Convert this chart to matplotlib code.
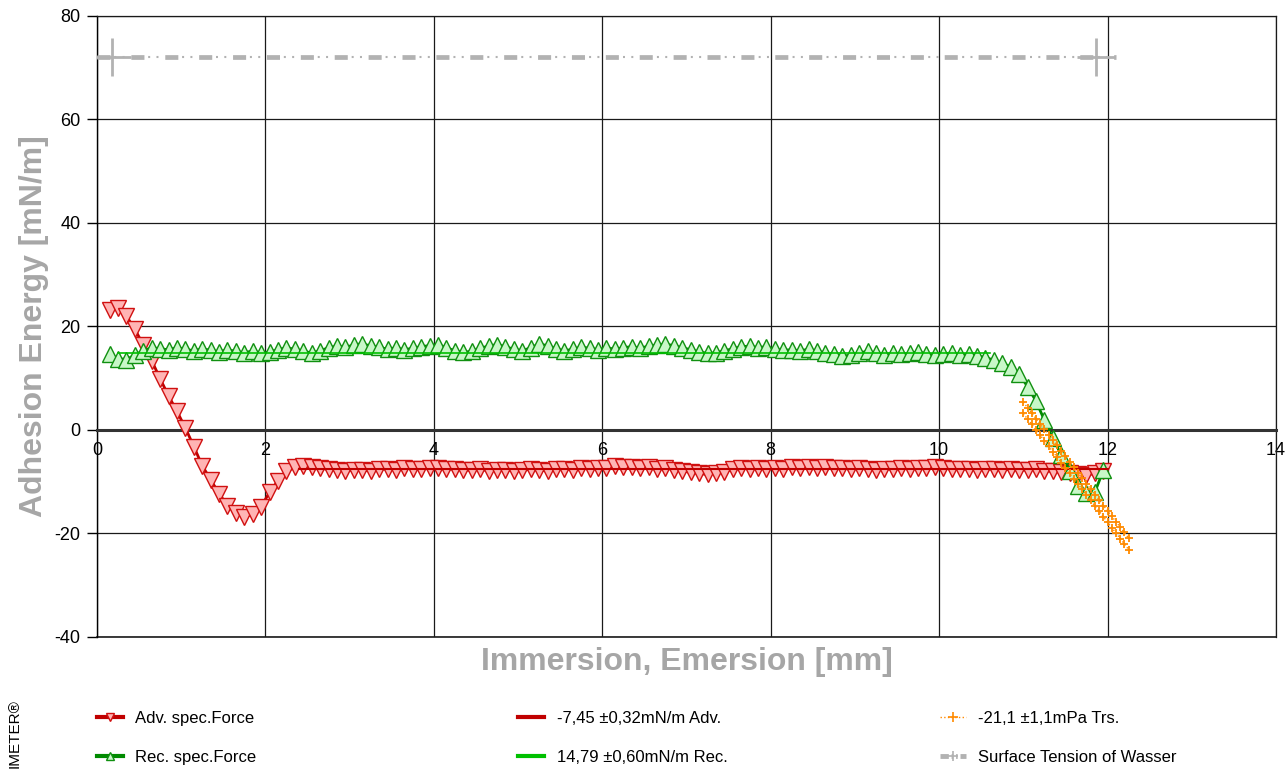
import numpy as np
import matplotlib
matplotlib.use("Agg")
import matplotlib.pyplot as plt
from matplotlib.lines import Line2D

plt.rcParams['font.family'] = ['Liberation Sans', 'DejaVu Sans']
plt.rcParams['lines.scale_dashes'] = False
plt.rcParams['axes.unicode_minus'] = False

# ---- data ----
pos = np.round(np.arange(0.15, 12.0, 0.1), 2)   # immersion / emersion position [mm]

adv_force = [23.2, 23.6, 22.0, 19.5, 16.4, 13.4, 9.9, 6.6, 3.6, 0.4,
             -3.2, -6.9, -9.6, -12.3, -14.6, -16.1, -16.8, -16.3, -14.8, -12.0,
             -9.8, -8.0, -7.2, -7.0, -7.1, -7.4, -7.6, -7.8, -7.9, -7.7,
             -7.8, -7.9, -7.6, -7.5, -7.7, -7.4, -7.5, -7.6, -7.3, -7.4,
             -7.6, -7.5, -7.7, -7.8, -7.6, -7.9, -7.8, -7.7, -7.9, -7.8,
             -7.6, -7.8, -7.9, -7.6, -7.5, -7.7, -7.4, -7.5, -7.3, -7.4,
             -7.0, -7.2, -7.1, -7.3, -7.2, -7.5, -7.3, -7.7, -7.9, -8.2,
             -8.4, -8.6, -8.3, -8.1, -7.6, -7.4, -7.5, -7.3, -7.6, -7.4,
             -7.5, -7.2, -7.3, -7.1, -7.3, -7.2, -7.4, -7.3, -7.6, -7.4,
             -7.5, -7.7, -7.5, -7.6, -7.4, -7.5, -7.3, -7.4, -7.2, -7.4,
             -7.5, -7.6, -7.5, -7.7, -7.6, -7.5, -7.7, -7.6, -7.8, -7.7,
             -7.6, -7.9, -8.0, -8.2, -8.4, -8.5, -8.7, -8.4, -8.0]

rec_force = [14.6, 13.8, 13.6, 14.5, 15.3, 15.9, 15.7, 15.5, 15.9, 15.6,
             15.3, 15.7, 15.4, 15.1, 15.5, 15.2, 14.9, 15.3, 14.8, 15.1,
             15.5, 15.9, 15.6, 15.2, 14.9, 15.3, 15.9, 16.2, 16.0, 16.4,
             16.7, 16.2, 16.0, 15.6, 15.9, 15.5, 15.8, 16.1, 16.3, 16.5,
             15.9, 15.3, 15.0, 15.2, 15.8, 16.2, 16.5, 16.1, 15.6, 15.3,
             15.9, 16.6, 16.3, 15.7, 15.3, 15.6, 16.0, 15.8, 15.5, 15.9,
             15.6, 15.9, 16.1, 15.8, 16.2, 16.4, 16.6, 16.3, 15.9, 15.5,
             15.1, 14.8, 14.9, 15.3, 15.7, 16.1, 16.2, 15.9, 16.1, 15.6,
             15.4, 15.5, 15.3, 15.6, 15.2, 14.9, 14.6, 14.2, 14.5, 14.9,
             15.2, 14.8, 14.5, 14.9, 14.6, 14.8, 15.1, 14.7, 14.5, 14.7,
             14.9, 14.5, 14.6, 14.3, 14.0, 13.5, 12.9, 12.2, 10.8, 8.4,
             5.6, 1.9, -1.6, -4.8, -7.9, -10.8, -12.1, -12.0, -7.8]

adv_fit_x = [2.4, 12.0]
adv_fit = -7.45
rec_fit_x = [0.25, 10.6]
rec_fit = 14.79

trs_x = [11.0, 11.05, 11.1, 11.15, 11.2, 11.25, 11.3, 11.35, 11.4, 11.45,
         11.5, 11.55, 11.6, 11.65, 11.7, 11.75, 11.8, 11.85, 11.9, 11.95,
         12.0, 12.05, 12.1, 12.15, 12.2, 12.25]
trs_upper = [5.4, 4.3, 3.3, 2.2, 1.2, 0.1, -0.9, -2.0, -3.0, -4.1,
             -5.1, -6.2, -7.2, -8.3, -9.3, -10.4, -11.4, -12.5, -13.5, -14.6,
             -15.6, -16.7, -17.7, -18.8, -19.8, -20.9]
trs_lower = [3.2, 2.1, 1.1, 0.0, -1.0, -2.1, -3.1, -4.2, -5.2, -6.3,
             -7.3, -8.4, -9.4, -10.5, -11.5, -12.6, -13.6, -14.7, -15.7, -16.8,
             -17.8, -18.9, -19.9, -21.0, -22.0, -23.1]

st_line_x = [0.0, 12.1]
st_mark_x = [0.18, 11.86]
surface_tension = 72.0

labels = ['Adv. spec.Force', 'Rec. spec.Force',
          '-7,45 \u00b10,32mN/m Adv.', '14,79 \u00b10,60mN/m Rec.',
          '-21,1 \u00b11,1mPa Trs.', 'Surface Tension of Wasser']

# ---- colours ----
red_line = '#c00000'
red_face = '#ffb4b4'
green_line = '#008a00'
green_face = '#c8f7c8'
green_fit = '#00c000'
orange = '#ff8a00'
grey = '#b2b2b2'
label_grey = '#a6a6a6'

fig = plt.figure(figsize=(12.86, 7.69), dpi=100)
ax = fig.add_axes([0.0754, 0.1717, 0.9168, 0.8075])

# surface tension: thick dashes + thin double dots
ax.plot(st_line_x, [surface_tension] * 2, color=grey, lw=3.4,
        linestyle=(0, (9.4, 15.0)), dash_capstyle='butt', zorder=3)
ax.plot(st_line_x, [surface_tension] * 2, color=grey, lw=1.5,
        linestyle=(12.0, (1.44, 4.54, 1.44, 17.0)), dash_capstyle='butt', zorder=3)
ax.plot(st_mark_x, [surface_tension] * 2, linestyle='none', marker='+',
        ms=28, mew=2, color=grey, zorder=3)

# measured series
ax.plot(pos, adv_force, color=red_line, lw=2, marker='v', ms=11,
        mfc=red_face, mec='#d01010', mew=1, zorder=4)
ax.plot(pos, rec_force, color=green_line, lw=2, marker='^', ms=11,
        mfc=green_face, mec='#109010', mew=1, zorder=4)

# fits
ax.plot(adv_fit_x, [adv_fit] * 2, color=red_line, lw=1.5, zorder=5)
ax.plot(rec_fit_x, [rec_fit] * 2, color=green_fit, lw=1.2, zorder=5)
ax.plot(trs_x, trs_upper, color=orange, lw=1, ls=':', marker='+', ms=6,
        mew=1.3, zorder=6)
ax.plot(trs_x, trs_lower, color=orange, lw=1, ls=':', marker='+', ms=6,
        mew=1.3, zorder=6)

ax.set_xlim(0, 14)
ax.set_ylim(-40, 80)
ax.set_xticks(np.arange(0, 15, 2))
ax.set_yticks(np.arange(-40, 81, 20))
ax.grid(True, color='#1a1a1a', lw=0.9, zorder=1)
ax.set_axisbelow(True)
ax.axhline(-40, color='#1a1a1a', lw=1.2, clip_on=False, zorder=1)

ax.spines['bottom'].set_position(('data', 0))
ax.spines['bottom'].set_linewidth(2.2)
ax.spines['bottom'].set_color('#333333')
for s in ['top', 'right']:
    ax.spines[s].set_color('#1a1a1a')
    ax.spines[s].set_linewidth(0.9)
ax.spines['left'].set_color('black')
ax.spines['left'].set_linewidth(1)

ax.tick_params(axis='x', length=0, pad=9, labelsize=13)
ax.tick_params(axis='y', length=7, width=1, pad=5, labelsize=13, direction='out')
for t in ax.get_xticklabels():
    t.set_clip_on(False)

ax.set_ylabel('Adhesion Energy [mN/m]', fontsize=23, fontweight='bold',
              color=label_grey)
ax.yaxis.set_label_coords(-0.041, 0.5)
fig.text(0.534, 0.139, 'Immersion, Emersion [mm]', fontsize=23,
         fontweight='bold', color=label_grey, ha='center', va='center')

# legend, three separate columns
h_adv = Line2D([], [], color=red_line, lw=3, marker='v', ms=6,
               mfc=red_face, mec='#d01010')
h_rec = Line2D([], [], color=green_line, lw=3, marker='^', ms=6,
               mfc=green_face, mec='#109010')
h_advfit = Line2D([], [], color=red_line, lw=3)
h_recfit = Line2D([], [], color=green_fit, lw=3)
h_trs = Line2D([], [], color=orange, lw=1, ls=':', marker='+', ms=7, mew=1.2)
h_st = Line2D([], [], color=grey, lw=3.5, ls=(0, (6, 2, 1.2, 2, 1.2, 2)),
              marker='+', ms=7, mew=1.2)
groups = [([h_adv, h_rec], labels[0:2], 0.0754),
          ([h_advfit, h_recfit], labels[2:4], 0.403),
          ([h_trs, h_st], labels[4:6], 0.731)]
for hs, ls_, xpos in groups:
    fig.legend(hs, ls_, loc='upper left', bbox_to_anchor=(xpos, 0.075),
               frameon=False, fontsize=12, handlelength=1.55, handletextpad=0.75,
               labelspacing=1.4, borderaxespad=0, borderpad=0)

fig.text(0.011, 0.046, 'IMETER\u00ae', rotation=90, fontsize=11,
         ha='center', va='center', color='black')

fig.savefig('out.png', dpi=100)
